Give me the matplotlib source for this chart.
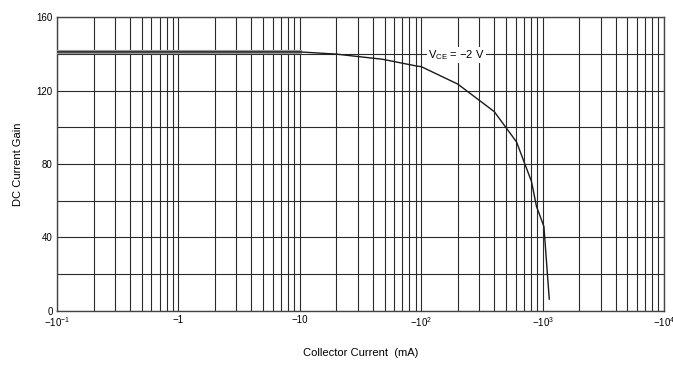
import numpy as np
import matplotlib
matplotlib.use("Agg")
from matplotlib import pyplot as plt
from matplotlib.ticker import FixedLocator, NullFormatter

plt.rcParams['font.family'] = ['Liberation Sans', 'DejaVu Sans']
plt.rcParams['mathtext.fontset'] = 'custom'
plt.rcParams['mathtext.rm'] = 'Liberation Sans'

# collector current (mA, magnitude) and DC current gain
ic_ma = [0.1, 10, 20, 48, 92, 100, 200, 400, 610, 810, 890, 1025, 1135]
gain = [141, 141, 139.8, 137, 133.3, 133, 123.5, 108.5, 92, 70.5, 57, 46, 6.5]

x_ticks = [0.1, 1, 10, 100, 1000, 10000]
x_labels = ["\u221210$^{\\mathregular{-1}}$", "\u22121", "\u221210",
            "\u221210$^{\\mathregular{2}}$", "\u221210$^{\\mathregular{3}}$",
            "\u221210$^{\\mathregular{4}}$"]
y_ticks = [0, 40, 80, 120, 160]

fig = plt.figure(figsize=(6.73, 3.65), dpi=100)
ax = fig.add_axes([0.0847, 0.148, 0.9019, 0.8054])

ax.set_xscale('log')
ax.set_xlim(0.1, 10000)
ax.set_ylim(0, 160)

# grid: every integer multiple in each decade, every 20 in gain
minor_x = [m * 10.0 ** k for k in range(-1, 4) for m in range(2, 10)]
ax.xaxis.set_major_locator(FixedLocator(x_ticks))
ax.xaxis.set_minor_locator(FixedLocator(minor_x))
ax.xaxis.set_minor_formatter(NullFormatter())
ax.set_xticklabels(x_labels)
ax.set_yticks(y_ticks)
ax.yaxis.set_minor_locator(FixedLocator(range(0, 161, 20)))
ax.grid(which='both', color='#2a2a2a', linewidth=0.8)
ax.tick_params(which='both', length=0, labelsize=7, pad=3)
for s in ax.spines.values():
    s.set_color('#444444')
    s.set_linewidth(1.0)

# curve (flat low-current part drawn as a gray band)
n_flat = 2
ax.plot(ic_ma[:n_flat], gain[:n_flat], color='#9a9a9a', linewidth=3.0, zorder=3)
ax.plot(ic_ma, gain, color='#1a1a1a', linewidth=1.0, zorder=4)

ax.text(195, 139.3, "V$_{\\mathregular{CE}}$ = \u22122 V", fontsize=8,
        ha='center', va='center', zorder=5,
        bbox=dict(facecolor='white', edgecolor='none', pad=0.8))

ax.set_xlabel("Collector Current  (mA)", fontsize=8)
ax.xaxis.set_label_coords(0.5, -0.125)
ax.set_ylabel("DC Current Gain", fontsize=8)
ax.yaxis.set_label_coords(-0.056, 0.5)

fig.savefig("out.png", dpi=100)
